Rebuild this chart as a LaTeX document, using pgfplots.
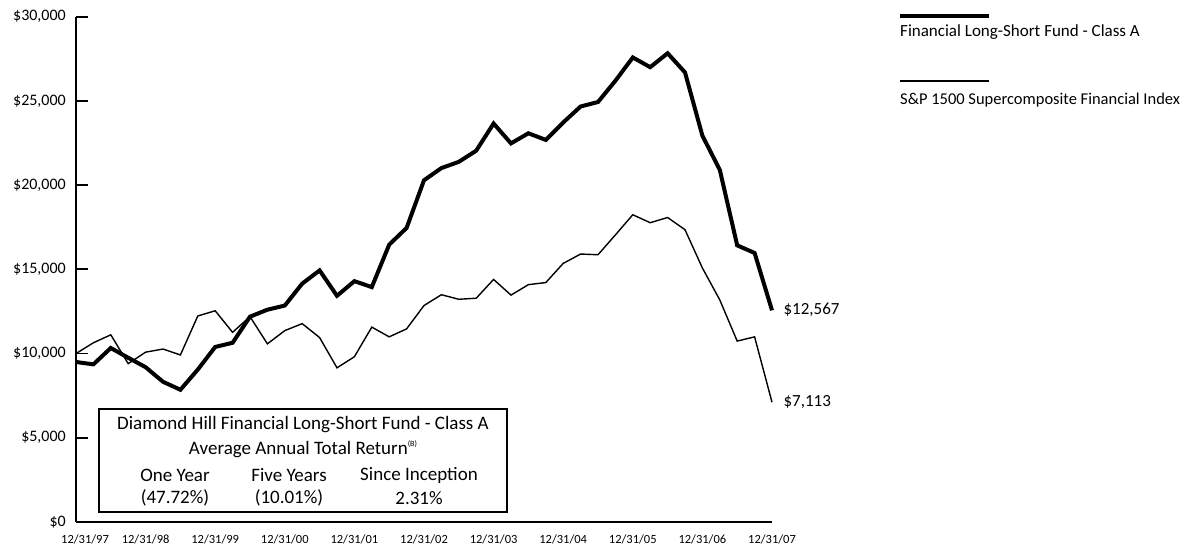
\documentclass[border=0pt]{standalone}
\usepackage{pgfplots}
\pgfplotsset{compat=1.18}
\usepackage{pgfplotstable}
\usepackage{fontspec}
\setmainfont{Carlito}

\pgfplotstableread{
i fund idx
0 9500 10000
1 9359 10641
2 10331 11114
3 9750 9400
4 9193 10083
5 8325 10269
6 7851 9917
7 9049 12231
8 10393 12541
9 10641 11262
10 12190 12190
11 12603 10579
12 12851 11362
13 14153 11776
14 14937 10951
15 13430 9153
16 14299 9812
17 13946 11570
18 16466 10992
19 17459 11466
20 20289 12851
21 21012 13493
22 21383 13224
23 22045 13286
24 23657 14401
25 22479 13472
26 23078 14092
27 22685 14216
28 23720 15351
29 24668 15909
30 24935 15867
31 26197 17045
32 27581 18243
33 27003 17768
34 27829 18078
35 26693 17354
36 22933 15080
37 20907 13183
38 16425 10741
39 15972 10992
40 12567 7113
}\data

\begin{document}
\begin{tikzpicture}
\useasboundingbox (-76pt,-24pt) rectangle (1110pt,522pt);
\begin{axis}[
  at={(0,0)}, anchor=south west,
  scale only axis, width=696pt, height=505.3pt,
  xmin=0, xmax=40, ymin=0, ymax=30000,
  axis lines=left,
  axis line style={-, line width=1.8pt},
  clip=false,
  scaled y ticks=false,
  xtick={0,4,...,40},
  xticklabels={\hspace*{18pt}12/31/97,12/31/98,12/31/99,12/31/00,12/31/01,12/31/02,12/31/03,12/31/04,12/31/05,12/31/06,12/31/07},
  xtick style={draw=none},
  ytick={0,5000,...,30000},
  yticklabels={{\$0},{\$5,000},{\$10,000},{\$15,000},{\$20,000},{\$25,000},{\$30,000}},
  tick align=inside,
  major tick length=12pt,
  ytick style={line width=1.8pt, black},
  yticklabel style={font=\fontsize{16}{18}\selectfont, anchor=east, inner sep=0pt, xshift=-10pt},
  xticklabel style={font=\fontsize{12.5}{14}\selectfont, anchor=center, inner sep=0pt, yshift=-17pt},
]
\addplot[black, line width=4pt] table[x=i, y=fund] {\data};
\addplot[black, line width=1.4pt] table[x=i, y=idx] {\data};
\node[anchor=west, font=\fontsize{17}{19}\selectfont] at (axis cs:40,12567) [xshift=8pt] {\$12,567};
\node[anchor=west, font=\fontsize{17}{19}\selectfont] at (axis cs:40,7113) [xshift=8pt] {\$7,113};
\end{axis}
% summary box
\draw[line width=1.8pt, fill=white] (23.3pt,10pt) rectangle (431pt,112.7pt);
\begin{scope}[every node/.style={font=\fontsize{19}{21}\selectfont, inner sep=0pt}]
\node at (227pt,97pt) {Diamond Hill Financial Long-Short Fund - Class A};
\node at (227pt,73pt) {Average Annual Total Return\raisebox{0.4em}{\fontsize{8}{9}\selectfont(B)}};
\node at (99pt,47pt) {One Year};
\node at (213pt,47pt) {Five Years};
\node at (343pt,47pt) {Since Inception};
\node at (99pt,24pt) {(47.72\%)};
\node at (213pt,24pt) {(10.01\%)};
\node at (343pt,24pt) {2.31\%};
\end{scope}
% legend
\draw[line width=4pt] (824pt,506pt) -- (913pt,506pt);
\node[anchor=west, inner sep=0pt, font=\fontsize{17}{19}\selectfont] at (824pt,490pt) {Financial Long-Short Fund - Class A};
\draw[line width=1.4pt] (824pt,441pt) -- (913pt,441pt);
\node[anchor=west, inner sep=0pt, font=\fontsize{16.5}{18}\selectfont] at (824pt,422pt) {S\&P 1500 Supercomposite Financial Index};
\end{tikzpicture}
\end{document}
